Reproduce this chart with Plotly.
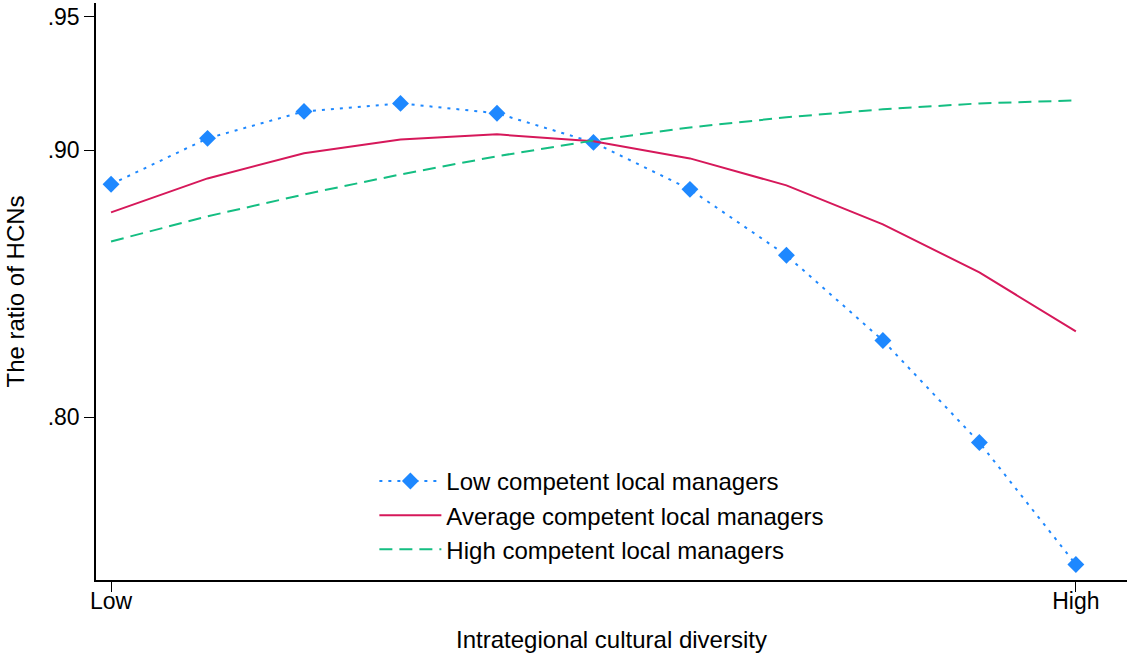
import plotly.graph_objects as go

# Predicted ratio of HCNs across 11 levels of intrategional cultural diversity
x_levels = list(range(11))
low_competent = [0.8873, 0.9045, 0.9146, 0.9176, 0.9139, 0.9030, 0.8854, 0.8607, 0.8288, 0.7906, 0.7449]
avg_competent = [0.8768, 0.8895, 0.8989, 0.9041, 0.9060, 0.9034, 0.8970, 0.8869, 0.8723, 0.8543, 0.8322]
high_competent = [0.8659, 0.8753, 0.8835, 0.8910, 0.8978, 0.9037, 0.9086, 0.9124, 0.9154, 0.9176, 0.9187]

y_ticks = [0.80, 0.90, 0.95]
y_tick_labels = [".80", ".90", ".95"]
x_ticks = [0, 10]
x_tick_labels = ["Low", "High"]

FONT = "Liberation Sans, Arial, sans-serif"

fig = go.Figure()
fig.add_trace(go.Scatter(
    x=x_levels, y=low_competent, mode="lines+markers",
    name="Low competent local managers",
    line=dict(color="#1E88FF", width=2, dash="3px,6px"),
    marker=dict(symbol="diamond", size=13, color="#1E88FF"),
))
fig.add_trace(go.Scatter(
    x=x_levels, y=avg_competent, mode="lines",
    name="Average competent local managers",
    line=dict(color="#D6185A", width=2),
))
fig.add_trace(go.Scatter(
    x=x_levels, y=high_competent, mode="lines",
    name="High competent local managers",
    line=dict(color="#14BE82", width=2, dash="13px,7px"),
))

fig.update_layout(
    width=1129, height=655,
    margin=dict(l=96, r=2, t=3, b=75),
    paper_bgcolor="white", plot_bgcolor="white",
    font=dict(family=FONT, size=20, color="black"),
    showlegend=True,
    legend=dict(
        x=0.27, y=0.21, xanchor="left", yanchor="top",
        bgcolor="rgba(0,0,0,0)", font=dict(size=24),
        itemwidth=62, tracegroupgap=0,
    ),
    xaxis=dict(
        range=[-0.156, 10.53], tickvals=x_ticks, ticktext=x_tick_labels,
        showgrid=False, zeroline=False, showline=True, linecolor="black", linewidth=1.5,
        ticks="outside", ticklen=10, tickcolor="black", tickwidth=1,
        tickfont=dict(size=23), ticklabelstandoff=-10,
        title=dict(text="Intrategional cultural diversity", standoff=18),
    ),
    yaxis=dict(
        range=[0.7391, 0.9552], tickvals=y_ticks, ticktext=y_tick_labels,
        showgrid=False, zeroline=False, showline=True, linecolor="black", linewidth=1.5,
        ticks="outside", ticklen=10, tickcolor="black", tickwidth=1,
        tickfont=dict(size=23),
        title=dict(text="The ratio of HCNs", standoff=16),
    ),
)

fig.write_html("out.html")
